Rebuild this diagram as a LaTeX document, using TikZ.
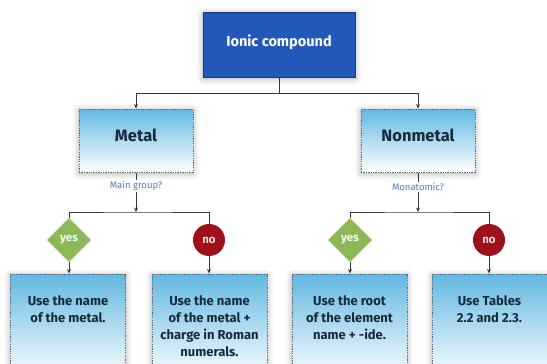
\documentclass[tikz,border=0pt]{standalone}
\usepackage{fontspec}
\setmainfont{Fira Sans}
\usetikzlibrary{shapes.geometric,shadows.blur,arrows.meta}
\definecolor{topblue}{RGB}{33,88,186}
\definecolor{topedge}{RGB}{25,60,120}
\definecolor{boxblue}{RGB}{98,184,225}
\definecolor{boxedge}{RGB}{95,100,110}
\definecolor{boxtext}{RGB}{22,42,58}
\definecolor{lblblue}{RGB}{78,125,195}
\definecolor{yesgreen}{RGB}{140,184,88}
\definecolor{nored}{RGB}{160,16,28}
\definecolor{linegray}{RGB}{55,55,55}
\begin{document}
\begin{tikzpicture}[x=1pt,y=-1pt,
  conn/.style={draw=linegray,line width=0.8pt},
  arr/.style={conn,-{Stealth[length=4.5pt,width=4pt]}},
  softshadow/.style={blur shadow={shadow blur radius=6pt,shadow xshift=0pt,shadow yshift=-1.5pt,shadow opacity=35}},
  topbox/.style={draw=topedge,fill=topblue,line width=0.8pt,minimum width=152pt,minimum height=65pt,softshadow},
  midbox/.style={draw=boxedge,line width=1pt,dash pattern=on 1.3pt off 1.1pt,top color=boxblue,bottom color=white,
    minimum width=114pt,minimum height=63pt,softshadow},
  midtext/.style={text=boxtext,font=\bfseries\fontsize{16.5}{18}\selectfont,inner sep=0pt},
  lowbox/.style={draw=boxedge,line width=1pt,dash pattern=on 1.3pt off 1.1pt,top color=boxblue,bottom color=white,
    minimum width=115pt,minimum height=106pt,softshadow},
  btext/.style={text=boxtext,font=\bfseries\fontsize{13}{17}\selectfont,align=center,inner sep=0pt,anchor=north},
  qlabel/.style={text=lblblue,font=\fontsize{9.5}{10}\selectfont,inner sep=1.5pt},
  yesnode/.style={diamond,fill=yesgreen,minimum width=44pt,minimum height=44pt,inner sep=0pt,
    text=white!92!yesgreen,font=\bfseries\fontsize{11.5}{12}\selectfont},
  nonode/.style={circle,fill=nored,minimum size=32pt,inner sep=0pt,
    text=white!85!nored,font=\bfseries\fontsize{11.5}{12}\selectfont}
]
\useasboundingbox (0,0) rectangle (547,364);
\clip (0,0) rectangle (547,364);

\node[topbox] (ic) at (279,44.5) {};
\node[text=white,font=\bfseries\fontsize{14.5}{16}\selectfont] (ict) at (279,42) {Ionic compound};
\node[midbox] (metal) at (136,140.5) {};
\node[midbox] (nonmetal) at (418,140.5) {};
\node[midtext] (metalt) at (136,135) {Metal};
\node[midtext] (nonmetalt) at (418,135) {Nonmetal};

\coordinate (j1) at (279,93);
\draw[conn] (ic.south) -- (j1);
\draw[arr] (j1) -| (metal.north);
\draw[arr] (j1) -| (nonmetal.north);

\node[qlabel] (mg) at (136,186) {Main group?};
\node[qlabel] (mo) at (418,187) {Monatomic?};
\coordinate (j2) at (136,212);
\coordinate (j3) at (418,212);
\draw[conn] (metal.south) -- (mg.north);
\draw[arr] (mg.south) -- (j2);
\draw[conn] (nonmetal.south) -- (mo.north);
\draw[arr] (mo.south) -- (j3);

\node[yesnode] (y1) at (69,240) {yes};
\node[nonode] (n1) at (209,240) {no};
\node[yesnode] (y2) at (350,240) {yes};
\node[nonode] (n2) at (489,240) {no};

\draw[conn] (y1.north) |- (j2) -| (n1.north);
\draw[conn] (y2.north) |- (j3) -| (n2.north);

\node[lowbox] (b1) at (68,327) {};
\node[lowbox] (b2) at (209.5,327) {};
\node[lowbox] (b3) at (349.5,327) {};
\node[lowbox] (b4) at (489.5,327) {};

\draw[arr] (y1.south) -- (b1.north -| y1.south);
\draw[arr] (n1.south) -- (b2.north -| n1.south);
\draw[arr] (y2.south) -- (b3.north -| y2.south);
\draw[arr] (n2.south) -- (b4.north -| n2.south);

\node[btext] (t1) at ([yshift=-22pt]b1.north) {Use the name\\of the metal.};
\node[btext] (t2) at ([yshift=-22pt]b2.north) {Use the name\\of the metal +\\charge in Roman\\numerals.};
\node[btext] (t3) at ([yshift=-22pt]b3.north) {Use the root\\of the element\\name + -ide.};
\node[btext] (t4) at ([yshift=-22pt]b4.north) {Use Tables\\2.2 and 2.3.};
\end{tikzpicture}
\end{document}
